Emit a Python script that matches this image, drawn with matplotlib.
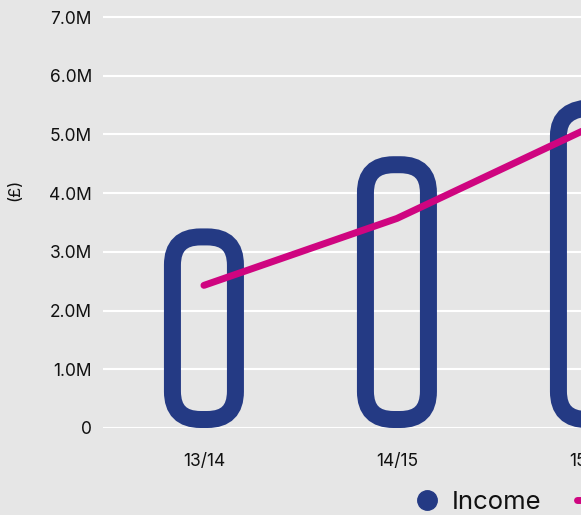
import matplotlib
matplotlib.use("Agg")
import matplotlib.pyplot as plt
from matplotlib.patches import FancyBboxPatch
from matplotlib.lines import Line2D

# data (values in millions of pounds)
years = ["13/14", "14/15", "15/16"]
income = [3.4, 4.63, 5.6]
expenditure = [2.43, 3.57, 5.12]
y_ticks = [0, 1, 2, 3, 4, 5, 6, 7]
y_tick_labels = ["0", "1.0M", "2.0M", "3.0M", "4.0M", "5.0M", "6.0M", "7.0M"]

BG = "#e6e6e6"
BLUE = "#243a84"
PINK = "#cf0580"

plt.rcParams["font.family"] = ["Inter", "DejaVu Sans"]

W, H, DPI = 581, 515, 100
fig = plt.figure(figsize=(W / DPI, H / DPI), dpi=DPI, facecolor=BG)

# pixel scale of the axes
px_x = 193.0    # pixels per category
px_y = 58.7     # pixels per 1M
x0, x1 = -0.523, 2.49
y0, y1 = 0, 7.05
left_px, zero_px = 103, 428
ax = fig.add_axes([left_px / W, (H - zero_px) / H,
                   (x1 - x0) * px_x / W, (y1 - y0) * px_y / H])
ax.set_facecolor(BG)
ax.set_xlim(x0, x1)
ax.set_ylim(y0, y1)

for s in ax.spines.values():
    s.set_visible(False)

ax.set_yticks(y_ticks)
ax.set_yticklabels(y_tick_labels)
ax.set_xticks(range(len(years)))
ax.set_xticklabels(years)
ax.tick_params(axis="y", length=0, pad=8, labelsize=12.5, labelcolor="#111111")
ax.tick_params(axis="x", length=0, pad=18, labelsize=12.5, labelcolor="#111111")
ax.grid(axis="y", color="white", linewidth=1.5)
ax.set_axisbelow(True)
ax.set_ylabel("(£)", fontsize=12, color="#111111")
ax.yaxis.set_label_coords(-(left_px - 22) / ((x1 - x0) * px_x), 0.575)

# hollow rounded bars, stroke drawn inside the bar's extent
stroke_px = 17
bar_px = 80
radius_px = 28
aspect = px_x / px_y
for i, v in enumerate(income):
    half = (bar_px - stroke_px) / 2 / px_x
    inset = stroke_px / 2 / px_y
    patch = FancyBboxPatch((i - half, inset), 2 * half, v - 2 * inset,
                           boxstyle="round,pad=0,rounding_size=%f" % (radius_px / px_x),
                           mutation_aspect=aspect,
                           facecolor="none", edgecolor=BLUE,
                           linewidth=stroke_px * 72 / DPI, zorder=3)
    ax.add_patch(patch)

ax.plot(range(len(years)), expenditure, color=PINK, linewidth=5,
        solid_capstyle="round", solid_joinstyle="round", zorder=4)

handles = [
    Line2D([], [], marker="o", color=BLUE, linestyle="none", markersize=14),
    Line2D([], [], color=PINK, linewidth=5, solid_capstyle="round"),
]
fig.legend(handles, ["Income", "Expenditure"], loc="center left",
           bbox_to_anchor=(414 / W, 1 - 502 / H), ncol=2, frameon=False,
           fontsize=18.5, handlelength=1.0, handletextpad=0.45,
           columnspacing=1.4, borderpad=0, borderaxespad=0,
           labelcolor="#111111")

fig.savefig("out.png", dpi=DPI, facecolor=BG)
